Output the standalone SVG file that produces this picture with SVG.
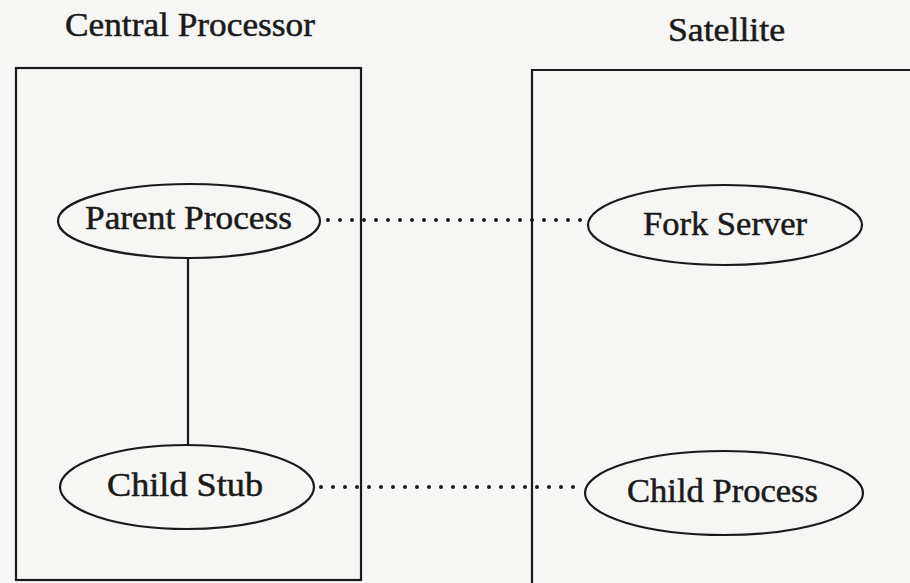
<svg xmlns="http://www.w3.org/2000/svg" width="910" height="583" viewBox="0 0 910 583">
  <style>
    .box { fill: none; stroke: #1a1a1a; stroke-width: 2.2; }
    .node { fill: none; stroke: #1a1a1a; stroke-width: 2.2; }
    .lbl { font-family: "Liberation Serif", "Times New Roman", serif; font-size: 34px; fill: #1a1a1a; stroke: #1a1a1a; stroke-width: 0.5; }
    .title { font-family: "Liberation Serif", "Times New Roman", serif; font-size: 33px; fill: #1a1a1a; stroke: #1a1a1a; stroke-width: 0.5; }
    .dots { fill: none; stroke: #1a1a1a; stroke-width: 4; stroke-linecap: round; stroke-dasharray: 0 12; }
    .solid { fill: none; stroke: #1a1a1a; stroke-width: 2.2; }
  </style>
  <rect x="0" y="0" width="910" height="583" fill="#f6f6f4"/>

  <g id="central-processor">
    <rect class="box" x="16" y="68" width="345" height="512"/>
    <text class="title" x="65" y="36" textLength="250" lengthAdjust="spacingAndGlyphs">Central Processor</text>
  </g>

  <g id="satellite">
    <path class="box" d="M 532 592 L 532 70 L 915 70"/>
    <text class="title" x="668" y="41" textLength="117" lengthAdjust="spacingAndGlyphs">Satellite</text>
  </g>

  <g id="connectors">
    <line class="solid" x1="188" y1="258" x2="188" y2="445"/>
    <line class="dots" x1="328" y1="220" x2="584" y2="220"/>
    <line class="dots" x1="321" y1="487" x2="581" y2="487"/>
  </g>

  <g id="parent-process">
    <ellipse class="node" cx="189" cy="221" rx="131" ry="37"/>
    <text class="lbl" x="85" y="229" textLength="207" lengthAdjust="spacingAndGlyphs">Parent Process</text>
  </g>

  <g id="fork-server">
    <ellipse class="node" cx="725" cy="225" rx="137" ry="40"/>
    <text class="lbl" x="643" y="235" textLength="164" lengthAdjust="spacingAndGlyphs">Fork Server</text>
  </g>

  <g id="child-stub">
    <ellipse class="node" cx="187" cy="487" rx="127" ry="42"/>
    <text class="lbl" x="107" y="496" textLength="156" lengthAdjust="spacingAndGlyphs">Child Stub</text>
  </g>

  <g id="child-process">
    <ellipse class="node" cx="724" cy="493" rx="139" ry="42"/>
    <text class="lbl" x="627" y="502" textLength="191" lengthAdjust="spacingAndGlyphs">Child Process</text>
  </g>
</svg>
